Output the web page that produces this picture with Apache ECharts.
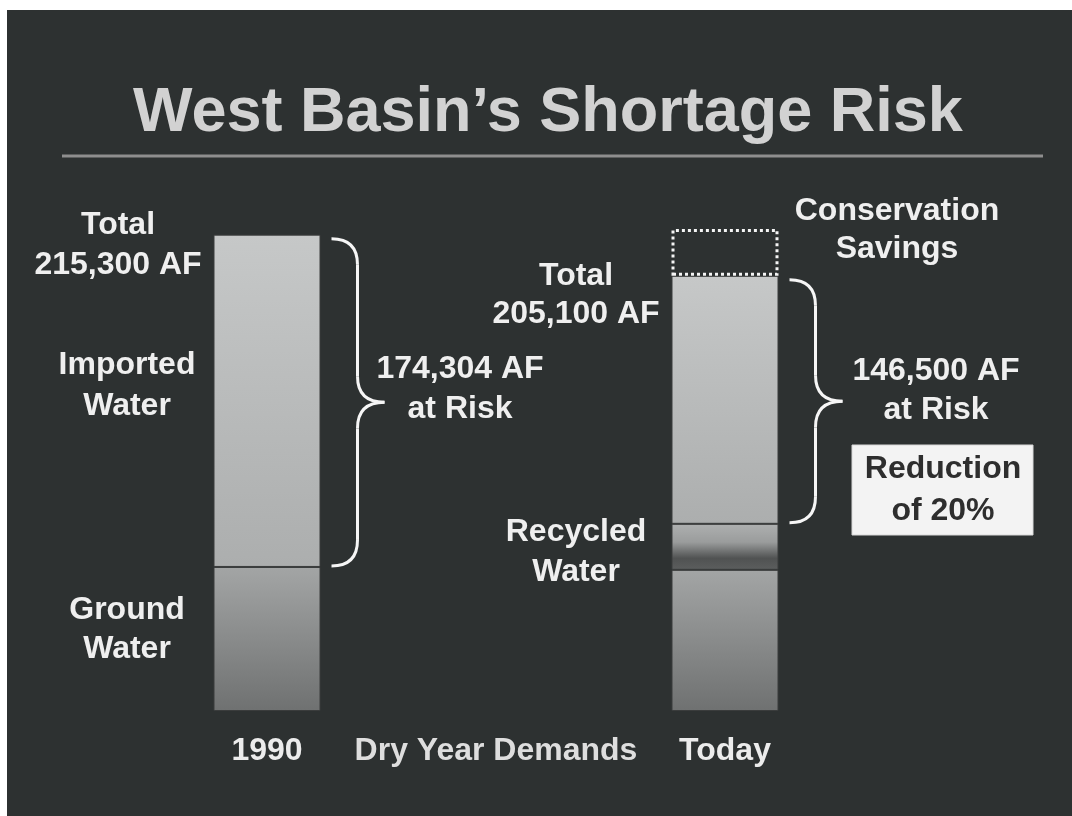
<!DOCTYPE html>
<html>
<head>
<meta charset="utf-8">
<script src="https://cdn.jsdelivr.net/npm/echarts@6/dist/echarts.min.js"></script>
<style>
html,body{margin:0;padding:0;background:#fff;}
#chart{width:1072px;height:816px;}
</style>
</head>
<body>
<div id="chart"></div>
<script>
// ---- data ----
const categories = ['1990', 'Today'];
const groundWater = [65100, 63800];
const recycledWater = [0, 20800];
const importedWater = [150200, 112100];
const conservationSavings = [0, 21200];
const totalLabels = ['Total\n215,300 AF', 'Total\n205,100 AF'];
const riskLabels = ['174,304 AF\nat Risk', '146,500 AF\nat Risk'];
const axisTitle = 'Dry Year Demands';
const chartTitle = 'West Basin\u2019s Shortage Risk';

// ---- build ----
const FONT = '"Liberation Sans", Arial, Helvetica, sans-serif';
const BAR_W = 107;
const nz = a => a.map(v => (v === 0 ? '-' : v));
const grad = stops => new echarts.graphic.LinearGradient(0, 0, 0, 1,
  stops.map(s => ({offset: s[0], color: s[1]})));

const bracketData = categories.map((c, i) => {
  const lo = groundWater[i] + recycledWater[i];
  return [i, lo, lo + importedWater[i]];
});

const chart = echarts.init(document.getElementById('chart'), null, {renderer: 'canvas'});

function txt(text, x, y, opts) {
  opts = opts || {};
  return {
    type: 'text', z: 1,
    style: {
      text: text, x: x, y: y,
      align: 'center', verticalAlign: 'middle',
      fill: opts.fill || '#efefef',
      font: (opts.weight || 'bold') + ' ' + (opts.size || 32) + 'px ' + FONT,
      lineHeight: opts.lh || 40
    }
  };
}

const option = {
  backgroundColor: '#ffffff',
  animation: false,
  grid: {left: 38, right: 118, top: 180, bottom: 105},
  xAxis: {
    type: 'category',
    data: categories,
    axisLine: {show: false},
    axisTick: {show: false},
    axisLabel: {
      color: '#ececec', fontSize: 32, fontWeight: 'bold', fontFamily: FONT, margin: 24
    },
    name: axisTitle,
    nameLocation: 'middle',
    nameGap: 24,
    nameMoveOverlap: false,
    nameTextStyle: {color: '#dedede', fontSize: 32, fontWeight: 'bold', fontFamily: FONT}
  },
  yAxis: {type: 'value', min: 0, max: 240000, show: false},
  graphic: [
    {type: 'rect', z: -10, shape: {x: 7, y: 10, width: 1065, height: 806}, style: {fill: '#2d3131'}},
    txt(chartTitle, 548, 114, {size: 63, fill: '#d2d2d2'}),
    {type: 'line', z: 1, shape: {x1: 62, y1: 156, x2: 1043, y2: 156}, style: {stroke: '#8e8e8e', lineWidth: 3}},
    txt(totalLabels[0], 118, 245),
    txt('Imported\nWater', 127, 386, {lh: 41}),
    txt('Ground\nWater', 127, 630, {lh: 39}),
    txt(riskLabels[0], 460, 389),
    txt(totalLabels[1], 576, 295, {lh: 38}),
    txt('Conservation\nSavings', 897, 230, {lh: 38}),
    txt('Recycled\nWater', 576, 552),
    txt(riskLabels[1], 936, 391, {lh: 39}),
    {type: 'rect', z: 1, shape: {x: 852, y: 445, width: 181, height: 90},
      style: {fill: '#f3f3f3', stroke: '#d8d8d8', lineWidth: 1}},
    Object.assign(txt('Reduction\nof 20%', 943, 490, {fill: '#2e2e2e', lh: 42}), {z: 2})
  ],
  series: [
    {
      name: 'Ground Water', type: 'bar', stack: 'w', barWidth: BAR_W,
      data: nz(groundWater),
      itemStyle: {
        color: grad([[0, '#a3a5a5'], [1, '#6f7171']]),
        borderColor: '#3a3c3c', borderWidth: 1
      }
    },
    {
      name: 'Recycled Water', type: 'bar', stack: 'w', barWidth: BAR_W,
      data: nz(recycledWater),
      itemStyle: {
        color: grad([[0, '#aeb0b0'], [0.4, '#9a9c9c'], [0.75, '#505252'], [1, '#5c5e5e']]),
        borderColor: '#3a3c3c', borderWidth: 1
      }
    },
    {
      name: 'Imported Water', type: 'bar', stack: 'w', barWidth: BAR_W,
      data: nz(importedWater),
      itemStyle: {
        color: grad([[0, '#c6c8c8'], [1, '#acaeae']]),
        borderColor: '#3a3c3c', borderWidth: 1
      }
    },
    {
      name: 'Conservation Savings', type: 'bar', stack: 'w', barWidth: BAR_W,
      data: nz(conservationSavings),
      itemStyle: {
        color: 'rgba(0,0,0,0)',
        borderColor: '#f4f4f4', borderWidth: 3, borderType: [3, 3]
      }
    },
    {
      name: 'At Risk', type: 'custom', z: 3,
      data: bracketData,
      renderItem: function (params, api) {
        const x = api.value(0);
        const pT = api.coord([x, api.value(2)]);
        const pB = api.coord([x, api.value(1)]);
        const L = pT[0] + BAR_W / 2 + 11;
        const V = L + 26;
        const tip = L + 53;
        const T = pT[1] + 4;
        const B = pB[1] - 1;
        const M = (T + B) / 2;
        const r = 26;
        const st = {stroke: '#f6f6f6', lineWidth: 3, fill: null};
        return {
          type: 'group',
          children: [
            {type: 'bezierCurve', shape: {x1: L, y1: T, cpx1: V, cpy1: T, x2: V, y2: T + r}, style: st},
            {type: 'line', shape: {x1: V, y1: T + r, x2: V, y2: M - r}, style: st},
            {type: 'bezierCurve', shape: {x1: V, y1: M - r, cpx1: V, cpy1: M, x2: tip, y2: M}, style: st},
            {type: 'bezierCurve', shape: {x1: tip, y1: M, cpx1: V, cpy1: M, x2: V, y2: M + r}, style: st},
            {type: 'line', shape: {x1: V, y1: M + r, x2: V, y2: B - r}, style: st},
            {type: 'bezierCurve', shape: {x1: V, y1: B - r, cpx1: V, cpy1: B, x2: L, y2: B}, style: st}
          ]
        };
      }
    }
  ]
};
chart.setOption(option);
</script>
</body>
</html>
